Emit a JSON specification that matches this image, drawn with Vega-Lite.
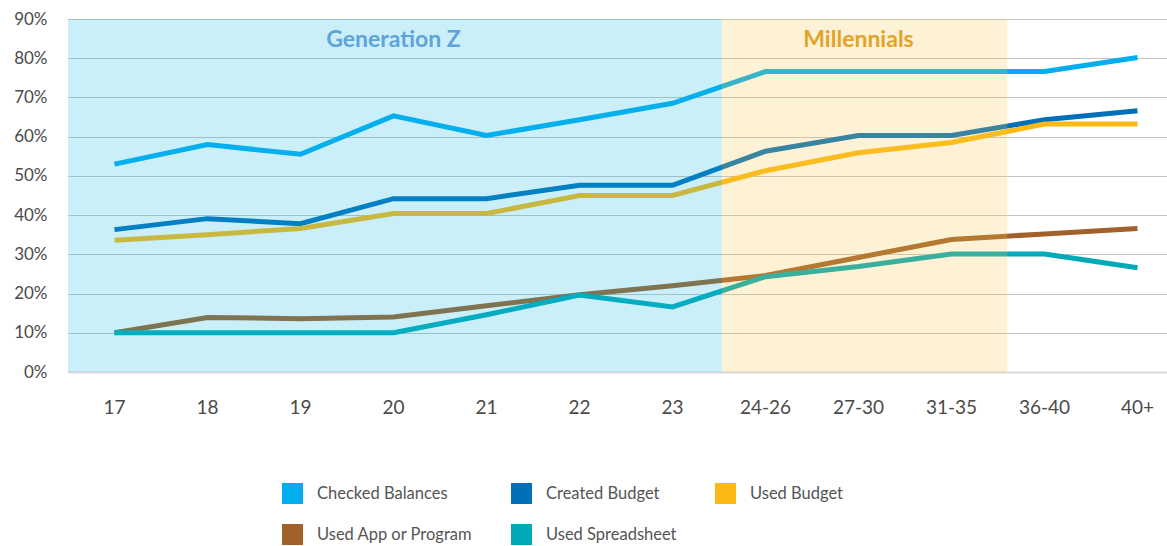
{
  "$schema": "https://vega.github.io/schema/vega-lite/v6.json",
  "width": 1116,
  "height": 353,
  "padding": {"left": 5, "top": 10, "right": 0, "bottom": 0},
  "config": {
    "font": "Lato",
    "view": {"stroke": null},
    "axis": {"labelFont": "Lato", "labelColor": "#4A4A4A"},
    "axisY": {"values": [0,0.1,0.2,0.3,0.4,0.5,0.6,0.7,0.8,0.9], "format": ".0%", "domain": false, "ticks": false, "gridColor": "#C4C4C4", "gridWidth": 1, "labelFontSize": 17, "labelPadding": 21, "minExtent": 63, "maxExtent": 63, "labelOverlap": false, "title": null},
    "axisX": {"title": null, "labelAngle": 0, "ticks": false, "grid": false, "domainColor": "#D9D9D9", "domainWidth": 2, "labelFontSize": 19, "labelPadding": 26}
  },
  "datasets": {
    "series": [
      {"age": "17", "series": "Checked Balances", "value": 0.53},
      {"age": "18", "series": "Checked Balances", "value": 0.58},
      {"age": "19", "series": "Checked Balances", "value": 0.555},
      {"age": "20", "series": "Checked Balances", "value": 0.653},
      {"age": "21", "series": "Checked Balances", "value": 0.603},
      {"age": "22", "series": "Checked Balances", "value": 0.643},
      {"age": "23", "series": "Checked Balances", "value": 0.685},
      {"age": "24-26", "series": "Checked Balances", "value": 0.766},
      {"age": "27-30", "series": "Checked Balances", "value": 0.766},
      {"age": "31-35", "series": "Checked Balances", "value": 0.766},
      {"age": "36-40", "series": "Checked Balances", "value": 0.766},
      {"age": "40+", "series": "Checked Balances", "value": 0.802},
      {"age": "17", "series": "Created Budget", "value": 0.363},
      {"age": "18", "series": "Created Budget", "value": 0.391},
      {"age": "19", "series": "Created Budget", "value": 0.378},
      {"age": "20", "series": "Created Budget", "value": 0.442},
      {"age": "21", "series": "Created Budget", "value": 0.442},
      {"age": "22", "series": "Created Budget", "value": 0.476},
      {"age": "23", "series": "Created Budget", "value": 0.476},
      {"age": "24-26", "series": "Created Budget", "value": 0.563},
      {"age": "27-30", "series": "Created Budget", "value": 0.603},
      {"age": "31-35", "series": "Created Budget", "value": 0.603},
      {"age": "36-40", "series": "Created Budget", "value": 0.643},
      {"age": "40+", "series": "Created Budget", "value": 0.666},
      {"age": "17", "series": "Used Budget", "value": 0.336},
      {"age": "18", "series": "Used Budget", "value": 0.35},
      {"age": "19", "series": "Used Budget", "value": 0.366},
      {"age": "20", "series": "Used Budget", "value": 0.404},
      {"age": "21", "series": "Used Budget", "value": 0.404},
      {"age": "22", "series": "Used Budget", "value": 0.45},
      {"age": "23", "series": "Used Budget", "value": 0.45},
      {"age": "24-26", "series": "Used Budget", "value": 0.513},
      {"age": "27-30", "series": "Used Budget", "value": 0.559},
      {"age": "31-35", "series": "Used Budget", "value": 0.585},
      {"age": "36-40", "series": "Used Budget", "value": 0.632},
      {"age": "40+", "series": "Used Budget", "value": 0.632},
      {"age": "17", "series": "Used App or Program", "value": 0.1},
      {"age": "18", "series": "Used App or Program", "value": 0.139},
      {"age": "19", "series": "Used App or Program", "value": 0.136},
      {"age": "20", "series": "Used App or Program", "value": 0.14},
      {"age": "21", "series": "Used App or Program", "value": 0.169},
      {"age": "22", "series": "Used App or Program", "value": 0.197},
      {"age": "23", "series": "Used App or Program", "value": 0.22},
      {"age": "24-26", "series": "Used App or Program", "value": 0.246},
      {"age": "27-30", "series": "Used App or Program", "value": 0.292},
      {"age": "31-35", "series": "Used App or Program", "value": 0.338},
      {"age": "36-40", "series": "Used App or Program", "value": 0.352},
      {"age": "40+", "series": "Used App or Program", "value": 0.366},
      {"age": "17", "series": "Used Spreadsheet", "value": 0.1},
      {"age": "18", "series": "Used Spreadsheet", "value": 0.1},
      {"age": "19", "series": "Used Spreadsheet", "value": 0.1},
      {"age": "20", "series": "Used Spreadsheet", "value": 0.1},
      {"age": "21", "series": "Used Spreadsheet", "value": 0.146},
      {"age": "22", "series": "Used Spreadsheet", "value": 0.196},
      {"age": "23", "series": "Used Spreadsheet", "value": 0.166},
      {"age": "24-26", "series": "Used Spreadsheet", "value": 0.243},
      {"age": "27-30", "series": "Used Spreadsheet", "value": 0.269},
      {"age": "31-35", "series": "Used Spreadsheet", "value": 0.301},
      {"age": "36-40", "series": "Used Spreadsheet", "value": 0.301},
      {"age": "40+", "series": "Used Spreadsheet", "value": 0.266}
    ]
  },
  "layer": [
    {
      "data": {"name": "series"},
      "mark": {"type": "line", "strokeWidth": 5, "strokeJoin": "miter"},
      "encoding": {
        "x": {
          "field": "age", "type": "ordinal", "bandPosition": 0.5,
          "scale": {"type": "band", "paddingInner": 0, "paddingOuter": 0,
            "domain": ["17","18","19","20","21","22","23","24-26","27-30","31-35","36-40","40+"]}
        },
        "y": {
          "field": "value", "type": "quantitative",
          "scale": {"domain": [0, 0.9], "nice": false}
        },
        "color": {
          "field": "series", "type": "nominal",
          "scale": {
            "domain": ["Checked Balances", "Created Budget", "Used Budget", "Used App or Program", "Used Spreadsheet"],
            "range": ["#00AEEF", "#0070BA", "#FDB913", "#A0612A", "#00A9B7"]
          },
          "legend": {
            "title": null, "orient": "none", "direction": "horizontal", "legendX": 214, "legendY": 464, "columns": 3, "columnPadding": 38, "rowPadding": 20, "padding": 0,
            "symbolType": "square", "symbolSize": 441, "symbolStrokeWidth": 0, "labelFontSize": 16.5, "labelColor": "#555555", "labelOffset": 14, "labelFont": "Lato",
            "encode": {"symbols": {"update": {"fill": {"scale": "color", "field": "value"}, "fillOpacity": {"value": 1}}}}
          }
        }
      }
    },
    {
      "data": {"values": [{"region": "Generation Z", "start": "17", "end": "23"}]},
      "mark": {"type": "rect", "opacity": 0.22, "color": "#0CB5E2"},
      "encoding": {
        "x": {"field": "start", "type": "ordinal", "bandPosition": 0},
        "x2": {"field": "end", "bandPosition": 1.03},
        "y": {"datum": 0},
        "y2": {"datum": 0.9}
      }
    },
    {
      "data": {"values": [{"region": "Millennials", "start": "24-26", "end": "31-35"}]},
      "mark": {"type": "rect", "opacity": 0.23, "color": "#F7C848"},
      "encoding": {
        "x": {"field": "start", "type": "ordinal", "bandPosition": 0.03},
        "x2": {"field": "end", "bandPosition": 1.1},
        "y": {"datum": 0},
        "y2": {"datum": 0.9}
      }
    },
    {
      "data": {"values": [{"label": "Generation Z", "age": "20"}]},
      "mark": {"type": "text", "fontSize": 23, "fontWeight": "bold", "color": "#5EA3DA", "baseline": "middle", "align": "center"},
      "encoding": {
        "x": {"field": "age", "type": "ordinal", "bandPosition": 0.5},
        "y": {"datum": 0.846},
        "text": {"field": "label"}
      }
    },
    {
      "data": {"values": [{"label": "Millennials", "age": "27-30"}]},
      "mark": {"type": "text", "fontSize": 23, "fontWeight": "bold", "color": "#E2A428", "baseline": "middle", "align": "center"},
      "encoding": {
        "x": {"field": "age", "type": "ordinal", "bandPosition": 0.5},
        "y": {"datum": 0.846},
        "text": {"field": "label"}
      }
    }
  ]
}
